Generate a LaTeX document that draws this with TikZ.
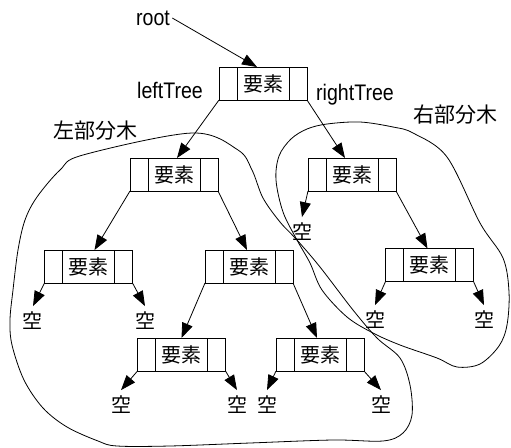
\documentclass[tikz,border=0pt]{standalone}
\usepackage{fontspec}
\newfontfamily\cjkfont{Noto Sans CJK JP}
\newfontfamily\labfont[FakeStretch=0.87]{Liberation Sans}
\usetikzlibrary{arrows.meta}
\newcommand\mkelem[3]{%
 \node[midcell] (#1) at (#2,#3) {要素};
 \node[sidecell, anchor=east] (#1l) at (#1.west) {};
 \node[sidecell, anchor=west] (#1r) at (#1.east) {};
}
\begin{document}
\begin{tikzpicture}[x=1pt,y=-1pt, line width=0.8pt,
 midcell/.style={draw, minimum width=52pt, minimum height=33pt, inner sep=0pt, outer sep=0pt, font=\cjkfont\fontsize{20}{22}\selectfont},
 sidecell/.style={draw, minimum width=18pt, minimum height=33pt, inner sep=0pt, outer sep=0pt},
 emptylab/.style={inner sep=6pt, outer sep=0pt, font=\cjkfont\fontsize{20}{22}\selectfont},
 lab/.style={inner sep=0pt, font=\labfont\fontsize{22.5}{24}\selectfont},
 cjklab/.style={inner sep=0pt, font=\cjkfont\fontsize{21}{23}\selectfont},
 arr/.style={-{Triangle[length=15pt,width=11pt]}},
 blob/.style={line width=0.8pt}]
\useasboundingbox (0,0) rectangle (511,447);

% blobs
\draw[blob] plot[smooth cycle, tension=0.55] coordinates {
 (192,133) (238,150) (252,170) (263,198) (280,222) (297,240) (320,267) (353,310)
 (377,338) (400,358) (410,385) (412,415) (403,433) (383,441) (333,440) (250,443)
 (170,446) (117,446) (98,441) (67,427) (43,408) (24,380) (12,345) (10,320)
 (13,290) (18,250) (25,220) (37,197) (60,170) (83,155)};
\draw[blob] plot[smooth cycle, tension=0.55] coordinates {
 (327,124) (360,122) (393,127) (413,133) (447,157) (480,223) (503,258) (509,292)
 (507,325) (499,346) (480,364) (457,367) (437,358) (400,345) (373,333) (347,317)
 (322,290) (310,263) (297,240) (283,212) (276,180) (279,156) (291,139) (307,129)};

% elements
\mkelem{root}{263}{83.5}
\mkelem{la}{174}{174.5}
\mkelem{lb}{88.5}{266.5}
\mkelem{lc}{249}{266.5}
\mkelem{ld}{181.5}{354.5}
\mkelem{le}{320}{354.5}
\mkelem{ra}{352}{174.5}
\mkelem{rb}{429.5}{265}

% empty labels
\node[emptylab] (e1) at (33,321) {空};
\node[emptylab] (e2) at (145,321) {空};
\node[emptylab] (e3) at (121,405) {空};
\node[emptylab] (e4) at (237,405) {空};
\node[emptylab] (e5) at (267,405) {空};
\node[emptylab] (e6) at (381,405) {空};
\node[emptylab] (e7) at (302,232) {空};
\node[emptylab] (e8) at (375,320) {空};
\node[emptylab] (e9) at (484,320) {空};

% text labels
\node[lab] (roottxt) at (153,18) {root};
\node[lab] (lt) at (170,90) {leftTree};
\node[lab] (rt) at (355,95) {rightTree};
\node[cjklab] (ls) at (95,131) {左部分木};
\node[cjklab] (rs) at (455,115) {右部分木};

% connectors
\draw[arr] ([xshift=2pt]roottxt.east) -- ([xshift=-6pt]root.north);
\draw[arr] (rootl.south west) -- ([xshift=3pt]la.north);
\draw[arr] (rootr.south east) -- ([xshift=-7pt]ra.north);
\draw[arr] (lal.south west) -- ([xshift=6pt]lb.north);
\draw[arr] (lar.south east) -- ([xshift=-2pt]lc.north);
\draw[arr] (lcl.south west) -- (ld.north);
\draw[arr] (lcr.south east) -- ([xshift=-3pt]le.north);
\draw[arr] (rar.south east) -- ([xshift=-2pt]rb.north);
\draw[arr] (lbl.south west) -- (e1.north);
\draw[arr] (lbr.south east) -- (e2.north);
\draw[arr] (ldl.south west) -- (e3.north);
\draw[arr] (ldr.south east) -- (e4.north);
\draw[arr] (lel.south west) -- (e5.north);
\draw[arr] (ler.south east) -- (e6.north);
\draw[arr] (ral.south west) -- (e7.north);
\draw[arr] (rbl.south west) -- (e8.north);
\draw[arr] (rbr.south east) -- (e9.north);
\end{tikzpicture}
\end{document}
